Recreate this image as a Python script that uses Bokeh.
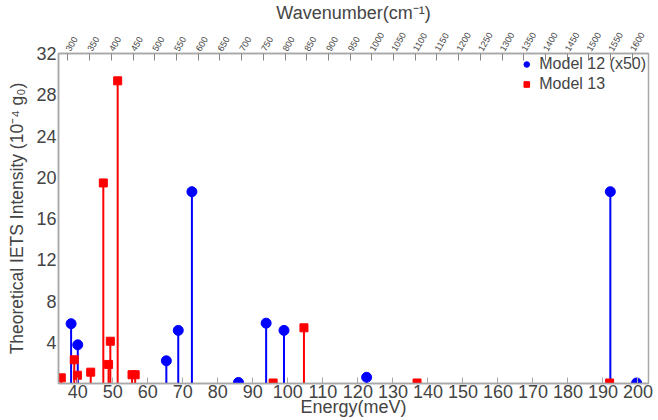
import math
from bokeh.plotting import figure
from bokeh.models import LinearAxis, Range1d, FixedTicker, Legend, LegendItem, ColumnDataSource
from bokeh.embed import file_html
from bokeh.resources import INLINE

# Model 12 (x50): energy (meV), intensity (10^-4 g0)
m12_energy = [38.1, 40.0, 65.3, 68.7, 72.6, 85.9, 93.8, 98.9, 122.5, 192.1, 199.6]
m12_intensity = [5.8, 3.75, 2.2, 5.15, 18.6, 0.1, 5.85, 5.15, 0.6, 18.6, 0.05]

# Model 13
m13_energy = [35.3, 39.0, 39.9, 43.7, 47.3, 48.8, 49.3, 51.4, 55.5, 56.4, 95.8, 104.6, 136.9, 191.9]
m13_intensity = [0.55, 2.3, 0.8, 1.1, 19.45, 1.85, 4.1, 29.35, 0.85, 0.85, 0.05, 5.4, 0.05, 0.05]

x_ticks = list(range(40, 201, 10))
y_ticks = list(range(4, 33, 4))
wn_ticks = list(range(300, 1601, 50))

MEV_TO_CM = 8.0655
X0, X1 = 34.5, 203.0

FONT = "Liberation Sans"
GRAY = "#a8a8a8"

p = figure(width=658, height=420, x_range=Range1d(X0, X1), y_range=Range1d(0, 32),
           output_backend="svg", toolbar_location=None,
           min_border_left=58, min_border_right=10, min_border_top=48, min_border_bottom=37)
p.extra_x_ranges = {"wn": Range1d(X0 * MEV_TO_CM, X1 * MEV_TO_CM)}

p.xgrid.visible = False
p.ygrid.visible = False
p.outline_line_color = GRAY
p.outline_line_width = 1.5

s12 = ColumnDataSource(dict(x=m12_energy, y=m12_intensity, y0=[0] * len(m12_energy)))
s13 = ColumnDataSource(dict(x=m13_energy, y=m13_intensity, y0=[0] * len(m13_energy)))

p.segment(x0="x", y0="y0", x1="x", y1="y", source=s13, line_color="#ff0000", line_width=2)
p.segment(x0="x", y0="y0", x1="x", y1="y", source=s12, line_color="#0000ff", line_width=2)
r12 = p.scatter(x="x", y="y", source=s12, marker="circle", size=10, fill_color="#0000ff", line_color="#0000ff")
r13 = p.scatter(x="x", y="y", source=s13, marker="square", size=8, fill_color="#ff0000", line_color="#ff0000")

# bottom axis
xa = p.xaxis[0]
xa.ticker = FixedTicker(ticks=x_ticks)
xa.axis_label = "Energy(meV)"
xa.axis_label_text_font = FONT
xa.axis_label_text_font_style = "normal"
xa.axis_label_text_font_size = "18px"
xa.axis_label_standoff = -4
xa.major_label_text_font = FONT
xa.major_label_text_font_size = "18px"
xa.major_label_standoff = 1
xa.major_tick_in = 6
xa.major_tick_out = 0
xa.minor_tick_in = 0
xa.minor_tick_out = 0
xa.axis_line_color = GRAY
xa.axis_line_width = 1.5
xa.major_tick_line_color = GRAY

# left axis
ya = p.yaxis[0]
ya.ticker = FixedTicker(ticks=y_ticks)
ya.axis_label = "Theoretical IETS Intensity (10\u207b\u2074 g\u2080)"
ya.axis_label_text_font = FONT
ya.axis_label_text_font_style = "normal"
ya.axis_label_text_font_size = "17.5px"
ya.axis_label_standoff = 6
ya.major_label_text_font = FONT
ya.major_label_text_font_size = "18px"
ya.major_label_standoff = 2
ya.major_tick_in = 0
ya.major_tick_out = 0
ya.minor_tick_in = 0
ya.minor_tick_out = 0
ya.axis_line_color = GRAY
ya.axis_line_width = 1.5

# top axis (wavenumber)
top = LinearAxis(x_range_name="wn", ticker=FixedTicker(ticks=wn_ticks),
                 axis_label="Wavenumber(cm\u207b\u00b9)")
top.axis_label_text_font = FONT
top.axis_label_text_font_style = "normal"
top.axis_label_text_font_size = "18px"
top.axis_label_standoff = 4
top.major_label_text_font = FONT
top.major_label_text_font_size = "9px"
top.major_label_orientation = math.pi / 3
top.major_label_standoff = 3
top.major_tick_in = 7
top.major_tick_out = 0
top.minor_tick_in = 0
top.minor_tick_out = 0
top.axis_line_color = GRAY
top.axis_line_width = 1.5
top.major_tick_line_color = "#888888"
top.major_tick_line_width = 1
p.add_layout(top, "above")

legend = Legend(items=[LegendItem(label="Model 12 (x50)", renderers=[r12]),
                       LegendItem(label="Model 13", renderers=[r13])],
                location="top_right")
legend.border_line_color = None
legend.background_fill_alpha = 0
legend.label_text_font = FONT
legend.label_text_font_size = "16px"
legend.glyph_width = 14
legend.glyph_height = 14
legend.spacing = 2
legend.padding = 1
legend.margin = 2
legend.label_standoff = 6
legend.label_height = 16
p.add_layout(legend)

open("out.html", "w").write(file_html(p, INLINE))
